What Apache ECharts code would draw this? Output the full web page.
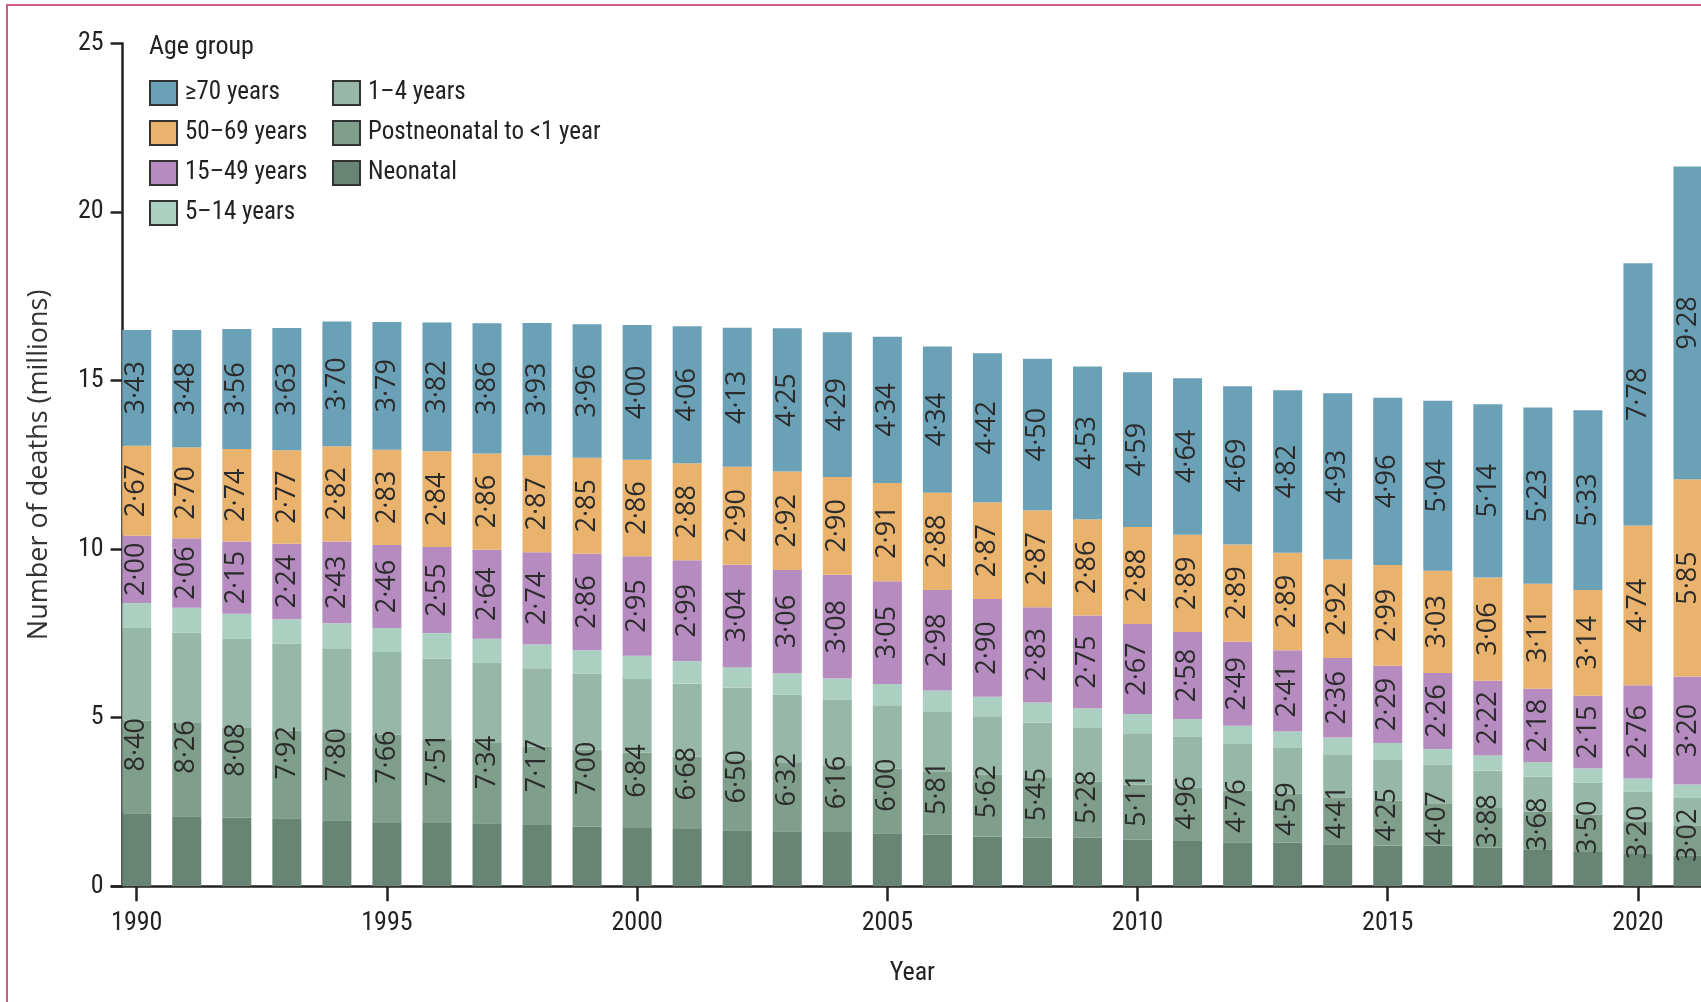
<!DOCTYPE html>
<html>
<head>
<meta charset="utf-8">
<script src="https://cdn.jsdelivr.net/npm/echarts@6/dist/echarts.min.js"></script>
<style>
html,body{margin:0;padding:0;background:#fff;}
#chart{width:1701px;height:1002px;}
</style>
</head>
<body>
<div id="chart"></div>
<script>
const years = ['1990','1991','1992','1993','1994','1995','1996','1997','1998','1999','2000','2001','2002','2003','2004','2005','2006','2007','2008','2009','2010','2011','2012','2013','2014','2015','2016','2017','2018','2019','2020','2021'];

const neonatal     = [2.17,2.08,2.03,2.02,1.96,1.88,1.88,1.87,1.82,1.77,1.73,1.70,1.66,1.63,1.61,1.57,1.53,1.48,1.45,1.44,1.38,1.34,1.31,1.29,1.25,1.21,1.21,1.14,1.10,1.02,0.96,0.92];
const postneonatal = [2.74,2.76,2.69,2.60,2.59,2.62,2.48,2.38,2.33,2.28,2.24,2.15,2.11,2.05,1.98,1.92,1.86,1.83,1.76,1.67,1.64,1.58,1.53,1.46,1.39,1.33,1.25,1.18,1.12,1.10,0.97,0.89];
const age1to4      = [2.75,2.69,2.62,2.58,2.51,2.45,2.39,2.37,2.32,2.25,2.20,2.16,2.13,2.00,1.94,1.88,1.80,1.73,1.64,1.61,1.52,1.51,1.38,1.35,1.28,1.23,1.15,1.11,1.04,0.95,0.87,0.81];
const age5to14     = [0.74,0.73,0.74,0.72,0.74,0.71,0.76,0.72,0.70,0.70,0.67,0.67,0.60,0.64,0.63,0.63,0.62,0.58,0.60,0.56,0.57,0.53,0.54,0.49,0.49,0.48,0.46,0.45,0.42,0.43,0.40,0.40];
const under15      = [8.40,8.26,8.08,7.92,7.80,7.66,7.51,7.34,7.17,7.00,6.84,6.68,6.50,6.32,6.16,6.00,5.81,5.62,5.45,5.28,5.11,4.96,4.76,4.59,4.41,4.25,4.07,3.88,3.68,3.50,3.20,3.02];
const age15to49    = [2.00,2.06,2.15,2.24,2.43,2.46,2.55,2.64,2.74,2.86,2.95,2.99,3.04,3.06,3.08,3.05,2.98,2.90,2.83,2.75,2.67,2.58,2.49,2.41,2.36,2.29,2.26,2.22,2.18,2.15,2.76,3.20];
const age50to69    = [2.67,2.70,2.74,2.77,2.82,2.83,2.84,2.86,2.87,2.85,2.86,2.88,2.90,2.92,2.90,2.91,2.88,2.87,2.87,2.86,2.88,2.89,2.89,2.89,2.92,2.99,3.03,3.06,3.11,3.14,4.74,5.85];
const age70plus    = [3.43,3.48,3.56,3.63,3.70,3.79,3.82,3.86,3.93,3.96,4.00,4.06,4.13,4.25,4.29,4.34,4.34,4.42,4.50,4.53,4.59,4.64,4.69,4.82,4.93,4.96,5.04,5.14,5.23,5.33,7.78,9.28];

const yTicks = [0, 5, 10, 15, 20, 25];

const COL = {
  a70: '#6ba1b6', a50: '#e9b36d', a15: '#b58bc0', a5: '#abcfc1',
  a1: '#97b8a8', post: '#7f9e8c', neo: '#678474'
};
const NARROW = '"Roboto Condensed","Liberation Sans Narrow","DejaVu Sans Condensed",sans-serif';
const SANS = '"Open Sans","Noto Sans",sans-serif';
const fmt = p => Number(p.value).toFixed(2).replace('.', '\u00B7');

const barLabel = {
  show: true, position: 'inside', rotate: 90, formatter: fmt,
  color: '#2b2b2b', fontFamily: SANS, fontSize: 27
};

function bar(name, data, color, withLabel) {
  return {
    name, type: 'bar', stack: 'total', data, barWidth: 29, barGap: '-100%',
    itemStyle: { color },
    label: withLabel ? barLabel : { show: false },
    emphasis: { disabled: true }, silent: true, animation: false
  };
}

const legendText = { fontFamily: NARROW, fontSize: 25, color: '#222', lineHeight: 26, padding: [0, 0, 0, 3] };

const chart = echarts.init(document.getElementById('chart'), null, { renderer: 'canvas' });
chart.setOption({
  backgroundColor: '#ffffff',
  animation: false,
  title: {
    text: 'Age group', left: 149, top: 34, padding: 0,
    textStyle: { fontFamily: NARROW, fontSize: 26, fontWeight: 'normal', color: '#222' }
  },
  legend: [
    {
      orient: 'vertical', left: 149, top: 80, itemGap: 14, padding: 0,
      itemWidth: 27, itemHeight: 24, icon: 'rect',
      data: ['\u226570 years', '50\u201369 years', '15\u201349 years', '5\u201314 years'],
      itemStyle: { borderColor: '#333', borderWidth: 2 },
      textStyle: legendText, selectedMode: false
    },
    {
      orient: 'vertical', left: 332, top: 80, itemGap: 14, padding: 0,
      itemWidth: 27, itemHeight: 24, icon: 'rect',
      data: ['1\u20134 years', 'Postneonatal to <1 year', 'Neonatal'],
      itemStyle: { borderColor: '#333', borderWidth: 2 },
      textStyle: legendText, selectedMode: false
    }
  ],
  grid: { left: 111.7, right: -12, top: 43.4, bottom: 115.7, containLabel: false, outerBoundsMode: 'none' },
  xAxis: {
    type: 'category', data: years, boundaryGap: true,
    name: 'Year', nameLocation: 'middle', nameGap: 74,
    nameTextStyle: { fontFamily: NARROW, fontSize: 26, color: '#222' },
    axisLine: { show: true, lineStyle: { color: '#222', width: 2.5 } },
    axisTick: { show: true, interval: 4, alignWithLabel: true, length: 15, lineStyle: { color: '#222', width: 2.5 } },
    axisLabel: { interval: 4, margin: 24, fontFamily: NARROW, fontSize: 26, color: '#222' },
    splitLine: { show: false }
  },
  yAxis: {
    type: 'value', min: yTicks[0], max: yTicks[yTicks.length - 1], interval: 5, offset: -10.9,
    name: 'Number of deaths (millions)', nameLocation: 'middle', nameGap: 70, nameRotate: 90,
    nameTextStyle: { fontFamily: SANS, fontSize: 27, color: '#333' },
    axisLine: { show: true, lineStyle: { color: '#222', width: 2.5 } },
    axisTick: { show: true, length: 12, lineStyle: { color: '#222', width: 2.5 } },
    axisLabel: { margin: 19, fontFamily: NARROW, fontSize: 26, color: '#222' },
    splitLine: { show: false }
  },
  graphic: [{
    type: 'polyline', silent: true, z: 100,
    shape: { points: [[7, 1002], [7, 5], [1701, 5]] },
    style: { stroke: '#cf5c7c', lineWidth: 2, fill: null }
  }],
  series: [
    bar('Neonatal', neonatal, COL.neo, false),
    bar('Postneonatal to <1 year', postneonatal, COL.post, false),
    bar('1\u20134 years', age1to4, COL.a1, false),
    bar('5\u201314 years', age5to14, COL.a5, false),
    bar('15\u201349 years', age15to49, COL.a15, true),
    bar('50\u201369 years', age50to69, COL.a50, true),
    bar('\u226570 years', age70plus, COL.a70, true),
    {
      name: 'Under 15 total', type: 'bar', data: under15, barWidth: 29, barGap: '-100%', z: 5,
      itemStyle: { color: 'rgba(0,0,0,0)' }, label: barLabel,
      emphasis: { disabled: true }, silent: true, animation: false
    }
  ]
});
</script>
</body>
</html>
